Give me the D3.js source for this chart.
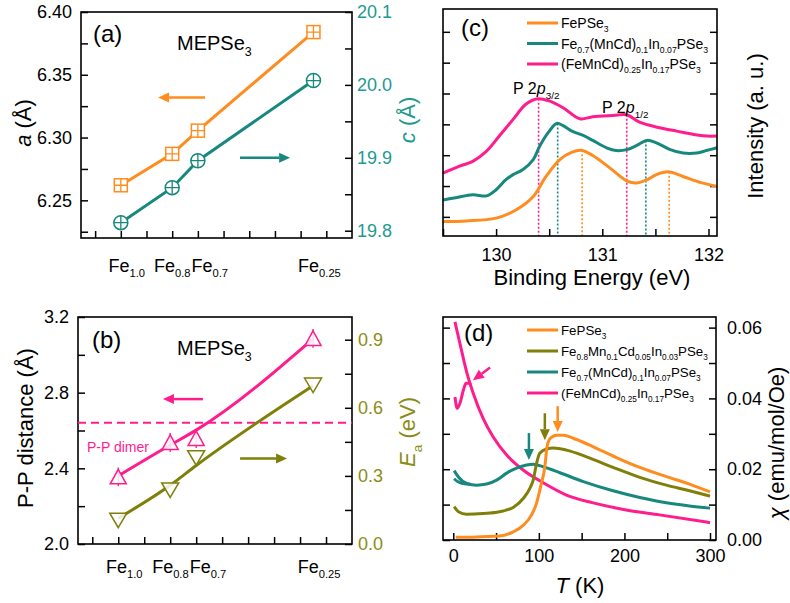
<!DOCTYPE html>
<html lang="en">
<head>
<meta charset="utf-8">
<title>MEPSe3 panels</title>
<script src="https://d3js.org/d3.v7.min.js"></script>
<style>
  body { margin: 0; background: #fff; }
  text { font-family: Arial, "Liberation Sans", sans-serif; }
</style>
</head>
<body>
<div id="chart"></div>
<script>
// ---- data: panels (a) and (b)
var catFrac = [1.0, 0.8, 0.7, 0.25];
var catSub = ["1.0", "0.8", "0.7", "0.25"];
var aLattice = [6.262, 6.287, 6.3055, 6.384];
var cLattice = [19.811, 19.859, 19.896, 20.006];
var ppMarker = [2.355, 2.537, 2.558, 3.087];
var ppFit = [2.36, 2.523, 2.602, 3.085];
var ppErr = [0.05, 0.05, 0.05, 0.05];
var eaMarker = [0.105, 0.238, 0.38, 0.70];
var eaFit = [0.113, 0.259, 0.346, 0.697];
var ppDimer = 2.641;

// ---- data: panel (c), XPS P 2p  [binding energy, intensity]
var xpsFePSe3 = [[129.5,0.85],[129.72,0.87],[130.0,0.96],[130.19,1.23],[130.35,1.66],[130.47,2.31],
  [130.6,2.86],[130.71,3.09],[130.8,3.16],[130.91,2.99],[131.07,2.59],[131.23,2.17],[131.32,2.10],
  [131.42,2.2],[131.51,2.37],[131.62,2.46],[131.76,2.31],[131.92,2.12],[132.08,1.99]];
var xpsFe07 = [[129.5,1.55],[129.62,1.62],[129.78,1.72],[129.91,1.68],[130.0,1.88],[130.09,2.2],
  [130.16,2.37],[130.25,2.53],[130.35,2.86],[130.41,3.29],[130.49,3.73],[130.57,4.03],[130.63,3.96],
  [130.72,3.77],[130.82,3.64],[130.91,3.48],[131.04,3.24],[131.13,3.15],[131.23,3.18],[131.32,3.31],
  [131.42,3.48],[131.51,3.4],[131.64,3.18],[131.76,3.07],[131.89,3.07],[131.98,3.15],[132.08,3.24]];
var xpsFe025 = [[129.5,2.42],[129.65,2.64],[129.78,2.8],[129.91,3.13],[130.03,3.62],[130.16,4.16],
  [130.28,4.65],[130.39,4.83],[130.5,4.76],[130.63,4.54],[130.79,4.18],[130.91,4.25],[131.1,4.29],
  [131.23,4.31],[131.35,4.07],[131.54,3.89],[131.7,3.78],[131.86,3.67],[131.98,3.62],[132.08,3.62]];
var peaksFePSe3 = [[130.81,3.16],[131.63,2.46]];
var peaksFe07 = [[130.58,4.03],[131.41,3.48]];
var peaksFe025 = [[130.40,4.83],[131.23,4.31]];

// ---- data: panel (d), susceptibility [T (K), chi]
var chiFePSe3 = [[3,0.00075],[20,0.0008],[54,0.0011],[70,0.0023],[82,0.0042],[91.5,0.0071],[97.3,0.0104],
  [102,0.015],[107,0.0207],[109.5,0.0262],[113,0.0286],[120.6,0.0296],[128.4,0.0296],[144,0.0284],
  [163,0.0264],[190.6,0.0233],[218,0.0205],[249,0.0179],[276,0.0158],[300,0.0136]];
var chiFe08 = [[1,0.0094],[6,0.008],[15.6,0.0073],[35,0.0075],[54,0.008],[70,0.0092],[82,0.0118],
  [89.5,0.0146],[93.4,0.0169],[97.3,0.0216],[101,0.0245],[109,0.0257],[117,0.026],[132.3,0.0254],
  [155.7,0.0235],[186.8,0.0205],[218,0.0177],[249,0.0155],[276,0.0139],[300,0.0124]];
var chiFe07 = [[1,0.0196],[6,0.0178],[15.6,0.016],[27.3,0.0155],[39,0.0158],[50.6,0.0169],[62.4,0.0189],
  [74,0.0203],[85.6,0.0212],[93.4,0.0214],[105,0.0207],[124.6,0.019],[152,0.0165],[186.8,0.0139],
  [218,0.012],[249,0.0105],[276,0.0096],[300,0.009]];
var chiFe07zfc = [[1,0.0173],[5,0.0165],[10,0.016],[16,0.0158],[21,0.0157]];
var chiFe025 = [[2,0.0616],[7.8,0.0555],[15.6,0.0475],[23.4,0.0414],[35,0.0343],[46.7,0.0291],
  [62.4,0.024],[82,0.0197],[105,0.0162],[132.3,0.0127],[163.5,0.0105],[202,0.0085],[241,0.0071],[300,0.0049]];
var chiFe025zfc = [[2,0.0404],[4.5,0.0372],[8,0.0388],[12,0.0425],[15,0.0443],[18,0.0443],[20.5,0.0438]];

// ---- colours and fonts
var ORANGE = "#FF8C1F", TEAL = "#17887E", MAGENTA = "#FF1C8D", OLIVE = "#7F7F0A";
var TEAL_TXT = "#1E9A90", OLIVE_TXT = "#8C8C14";
var FONT = "Arial, 'Liberation Sans', sans-serif";

var svg = d3.select("#chart").append("svg").attr("width", 790).attr("height", 603);

// text with subscripts / italics: parts = [[text, "sub"|"it"|"itsub"|undefined], ...]
function rich(g, x, y, parts, size, color, anchor) {
  var t = g.append("text").attr("x", x).attr("y", y)
    .attr("font-size", size).attr("fill", color || "#000")
    .attr("text-anchor", anchor || "start");
  var shift = 0;
  parts.forEach(function(p) {
    var s = t.append("tspan").text(p[0]);
    var isSub = p[1] == "sub" || p[1] == "itsub";
    var target = isSub ? size * 0.3 : 0;
    if (target != shift) { s.attr("dy", target - shift); shift = target; }
    if (isSub) s.attr("font-size", size * 0.62);
    if (p[1] == "it" || p[1] == "itsub") s.attr("font-style", "italic");
  });
  return t;
}

function frame(x0, y0, x1, y1) {
  svg.append("rect").attr("x", x0).attr("y", y0).attr("width", x1 - x0).attr("height", y1 - y0)
    .attr("fill", "none").attr("stroke", "#000").attr("stroke-width", 1.6);
}

function axis(gen, pos, values, fmt, color, pad, horizontal) {
  gen.tickValues(values).tickSize(-7).tickPadding(pad).tickFormat(fmt);
  var g = svg.append("g")
    .attr("transform", horizontal ? "translate(0," + pos + ")" : "translate(" + pos + ",0)")
    .call(gen);
  g.select(".domain").remove();
  g.selectAll("line").attr("stroke", "#000").attr("stroke-width", 1.5);
  g.selectAll("text").attr("font-size", 18).attr("font-family", FONT).attr("fill", color || "#000");
  return g;
}

function arrow(x1, y1, x2, y2, color) {
  var ang = Math.atan2(y2 - y1, x2 - x1), L = 11, Wd = 5;
  var bx = x2 - L * Math.cos(ang), by = y2 - L * Math.sin(ang);
  svg.append("line").attr("x1", x1).attr("y1", y1).attr("x2", bx).attr("y2", by)
    .attr("stroke", color).attr("stroke-width", 2.5);
  var px = -Math.sin(ang) * Wd, py = Math.cos(ang) * Wd;
  svg.append("path")
    .attr("d", "M" + x2 + "," + y2 + "L" + (bx + px) + "," + (by + py) + "L" + (bx - px) + "," + (by - py) + "Z")
    .attr("fill", color);
}

function rotLabel(x, y, parts, color) {
  var g = svg.append("g").attr("transform", "translate(" + x + "," + y + ") rotate(-90)");
  rich(g, 0, 0, parts, 22, color, "middle");
}

// category labels under (a)/(b), centred then pushed apart where they collide
function catLabels(xs, y) {
  var items = catFrac.map(function(f, i) {
    var t = rich(svg, 0, y, [["Fe"], [catSub[i], "sub"]], 18, "#000", "start");
    var w = t.node().getComputedTextLength();
    return { t: t, w: w, c: xs(f) + 6 };
  });
  for (var i = 0; i < items.length - 1; i++) {
    var a = items[i], b = items[i + 1];
    var gap = (b.c - b.w / 2) - (a.c + a.w / 2);
    if (gap < 1) { a.c -= (1 - gap) / 2; b.c += (1 - gap) / 2; }
  }
  items.forEach(function(it) { it.t.attr("x", it.c - it.w / 2); });
}

var xsTicks = d3.range(2, 12).map(function(i) { return i / 10; });
var noLabel = function() { return ""; };

// ================= panel (a)
var A = { x0: 81, y0: 12, x1: 352, y1: 238 };
var xA = d3.scaleLinear().domain([1.155, 0.1]).range([A.x0, A.x1]);
var yA = d3.scaleLinear().domain([6.22, 6.40]).range([A.y1, A.y0]);
var yA2 = d3.scaleLinear().domain([19.79, 20.1]).range([A.y1, A.y0]);

axis(d3.axisLeft(yA), A.x0, d3.range(0, 8).map(function(i) { return +(6.225 + 0.025 * i).toFixed(3); }),
  function(d) { return Math.round(d * 1000) % 50 == 0 ? d3.format(".2f")(d) : ""; }, "#000", 9);
axis(d3.axisRight(yA2), A.x1, d3.range(0, 7).map(function(i) { return +(19.8 + 0.05 * i).toFixed(2); }),
  function(d) { return Math.round(d * 100) % 10 == 0 ? d3.format(".1f")(d) : ""; }, TEAL_TXT, 5);
axis(d3.axisBottom(xA), A.y1, xsTicks, noLabel, "#000", 6, true);
frame(A.x0, A.y0, A.x1, A.y1);

var lineA = d3.line().x(function(d) { return xA(d[0]); }).y(function(d) { return yA(d[1]); });
var lineA2 = d3.line().x(function(d) { return xA(d[0]); }).y(function(d) { return yA2(d[1]); });
var aPts = catFrac.map(function(f, i) { return [f, aLattice[i]]; });
var cPts = catFrac.map(function(f, i) { return [f, cLattice[i]]; });
svg.append("path").attr("d", lineA(aPts)).attr("fill", "none").attr("stroke", ORANGE).attr("stroke-width", 3);
svg.append("path").attr("d", lineA2(cPts)).attr("fill", "none").attr("stroke", TEAL).attr("stroke-width", 3);
aPts.forEach(function(d) {
  var g = svg.append("g").attr("transform", "translate(" + xA(d[0]) + "," + yA(d[1]) + ")");
  g.append("rect").attr("x", -6.5).attr("y", -6.5).attr("width", 13).attr("height", 13)
    .attr("fill", "#fff").attr("stroke", ORANGE).attr("stroke-width", 1.5);
  g.append("path").attr("d", "M-6.5,0H6.5M0,-6.5V6.5").attr("stroke", ORANGE).attr("stroke-width", 1.3);
});
cPts.forEach(function(d) {
  var g = svg.append("g").attr("transform", "translate(" + xA(d[0]) + "," + yA2(d[1]) + ")");
  g.append("circle").attr("r", 7).attr("fill", "#fff").attr("stroke", TEAL).attr("stroke-width", 1.5);
  g.append("path").attr("d", "M-7,0H7M0,-7V7").attr("stroke", TEAL).attr("stroke-width", 1.3);
});
rich(svg, 93, 42, [["(a)"]], 24);
rich(svg, 177, 50, [["MEPSe"], ["3", "sub"]], 20);
arrow(xA(0.672), yA(6.332), xA(0.855), yA(6.332), ORANGE);
arrow(xA(0.536), yA2(19.9), xA(0.341), yA2(19.9), TEAL);
catLabels(xA, 272);
rotLabel(31, 123, [["a", "it"], [" (Å)"]], "#000");
rotLabel(415, 120, [["c", "it"], [" (Å)"]], TEAL_TXT);

// ================= panel (b)
var B = { x0: 78, y0: 317, x1: 352, y1: 544 };
var xB = d3.scaleLinear().domain([1.155, 0.1]).range([B.x0, B.x1]);
var yB = d3.scaleLinear().domain([2.0, 3.2]).range([B.y1, B.y0]);
var yB2 = d3.scaleLinear().domain([0, 1.0]).range([B.y1, B.y0]);

axis(d3.axisLeft(yB), B.x0, d3.range(0, 7).map(function(i) { return +(2.0 + 0.2 * i).toFixed(1); }),
  function(d) { return Math.round(d * 10) % 4 == 0 ? d3.format(".1f")(d) : ""; }, "#000", 9);
axis(d3.axisRight(yB2), B.x1, d3.range(0, 7).map(function(i) { return +(0.15 * i).toFixed(2); }),
  function(d) { return Math.round(d * 100) % 30 == 0 ? d3.format(".1f")(d) : ""; }, OLIVE_TXT, 6);
axis(d3.axisBottom(xB), B.y1, xsTicks, noLabel, "#000", 6, true);
frame(B.x0, B.y0, B.x1, B.y1);

svg.append("line").attr("x1", B.x0).attr("x2", B.x1).attr("y1", yB(ppDimer)).attr("y2", yB(ppDimer))
  .attr("stroke", MAGENTA).attr("stroke-width", 2).attr("stroke-dasharray", "8,5");
rich(svg, 87, 452, [["P-P dimer"]], 14, MAGENTA);

var smooth = d3.line().curve(d3.curveMonotoneX);
svg.append("path").attr("d", smooth(catFrac.map(function(f, i) { return [xB(f), yB(ppFit[i])]; })))
  .attr("fill", "none").attr("stroke", MAGENTA).attr("stroke-width", 3);
svg.append("path").attr("d", smooth(catFrac.map(function(f, i) { return [xB(f), yB2(eaFit[i])]; })))
  .attr("fill", "none").attr("stroke", OLIVE).attr("stroke-width", 3);
catFrac.forEach(function(f, i) {
  svg.append("line").attr("x1", xB(f)).attr("x2", xB(f))
    .attr("y1", yB(ppMarker[i] - ppErr[i])).attr("y2", yB(ppMarker[i] + ppErr[i]))
    .attr("stroke", MAGENTA).attr("stroke-width", 1.3);
  svg.append("path").attr("transform", "translate(" + xB(f) + "," + yB(ppMarker[i]) + ")")
    .attr("d", "M0,-7.5L8,7L-8,7Z").attr("fill", "#fff").attr("fill-opacity", 0.85)
    .attr("stroke", MAGENTA).attr("stroke-width", 1.5);
  svg.append("path").attr("transform", "translate(" + xB(f) + "," + yB2(eaMarker[i]) + ")")
    .attr("d", "M0,7.5L8.5,-7L-8.5,-7Z").attr("fill", "#fff").attr("fill-opacity", 0.85)
    .attr("stroke", OLIVE).attr("stroke-width", 1.5);
});
rich(svg, 92, 348, [["(b)"]], 24);
rich(svg, 177, 355, [["MEPSe"], ["3", "sub"]], 20);
arrow(xB(0.674), yB(2.766), xB(0.828), yB(2.766), MAGENTA);
arrow(xB(0.531), yB2(0.377), xB(0.350), yB2(0.377), OLIVE);
catLabels(xB, 573);
rotLabel(33, 428, [["P-P distance (Å)"]], "#000");
rotLabel(415, 432, [["E", "it"], ["a", "sub"], [" (eV)"]], OLIVE_TXT);

// ================= panel (c)
var C = { x0: 443, y0: 9, x1: 717, y1: 236 };
var xC = d3.scaleLinear().domain([129.5, 132.08]).range([C.x0, C.x1]);
var yC = d3.scaleLinear().domain([0.38, 7.74]).range([C.y1, C.y0]);
var cTicksY = d3.range(1, 8);
axis(d3.axisLeft(yC), C.x0, cTicksY, noLabel, "#000", 6);
axis(d3.axisRight(yC), C.x1, cTicksY, noLabel, "#000", 6);
axis(d3.axisBottom(xC), C.y1, d3.range(0, 6).map(function(i) { return 129.5 + 0.5 * i; }),
  function(d) { return d % 1 == 0 ? d3.format("d")(d) : ""; }, "#000", 12, true);

var lineC = d3.line().x(function(d) { return xC(d[0]); }).y(function(d) { return yC(d[1]); })
  .curve(d3.curveCatmullRom.alpha(0.5));
[[peaksFePSe3, ORANGE], [peaksFe07, TEAL], [peaksFe025, MAGENTA]].forEach(function(s) {
  s[0].forEach(function(p) {
    svg.append("line").attr("x1", xC(p[0])).attr("x2", xC(p[0])).attr("y1", yC(p[1])).attr("y2", C.y1)
      .attr("stroke", s[1]).attr("stroke-width", 1.6).attr("stroke-dasharray", "2,2");
  });
});
[[xpsFePSe3, ORANGE], [xpsFe07, TEAL], [xpsFe025, MAGENTA]].forEach(function(s) {
  svg.append("path").attr("d", lineC(s[0])).attr("fill", "none").attr("stroke", s[1]).attr("stroke-width", 3);
});
frame(C.x0, C.y0, C.x1, C.y1);
rich(svg, 461, 36, [["(c)"]], 24);
rich(svg, 513, 94, [["P 2"], ["p", "it"], ["3/2", "sub"]], 16);
rich(svg, 602, 113, [["P 2"], ["p", "it"], ["1/2", "sub"]], 16);

var legC = [
  [ORANGE, [["FePSe"], ["3", "sub"]]],
  [TEAL, [["Fe"], ["0.7", "sub"], ["(MnCd)"], ["0.1", "sub"], ["In"], ["0.07", "sub"], ["PSe"], ["3", "sub"]]],
  [MAGENTA, [["(FeMnCd)"], ["0.25", "sub"], ["In"], ["0.17", "sub"], ["PSe"], ["3", "sub"]]]
];
legC.forEach(function(l, i) {
  var y = 23 + i * 20.5;
  svg.append("line").attr("x1", 527).attr("x2", 558).attr("y1", y).attr("y2", y)
    .attr("stroke", l[0]).attr("stroke-width", 3);
  rich(svg, 561, y + 5, l[1], 14);
});
rich(svg, 592, 285, [["Binding Energy (eV)"]], 22, "#000", "middle");
rotLabel(763, 126, [["Intensity (a. u.)"]], "#000");

// ================= panel (d)
var D = { x0: 443, y0: 317, x1: 716, y1: 540 };
var xD = d3.scaleLinear().domain([-12, 307]).range([D.x0, D.x1]);
var yD = d3.scaleLinear().domain([0, 0.063]).range([D.y1, D.y0]);
var dTicksY = d3.range(0, 7).map(function(i) { return +(0.01 * i).toFixed(2); });
axis(d3.axisLeft(yD), D.x0, dTicksY, noLabel, "#000", 6);
axis(d3.axisRight(yD), D.x1, dTicksY,
  function(d) { return Math.round(d * 100) % 2 == 0 ? d3.format(".2f")(d) : ""; }, "#000", 11);
axis(d3.axisBottom(xD), D.y1, d3.range(0, 301, 50),
  function(d) { return d % 100 == 0 ? d : ""; }, "#000", 9, true);

var lineD = d3.line().x(function(d) { return xD(d[0]); }).y(function(d) { return yD(d[1]); })
  .curve(d3.curveMonotoneX);
[[chiFe025, MAGENTA], [chiFe025zfc, MAGENTA], [chiFe07, TEAL], [chiFe07zfc, TEAL],
 [chiFe08, OLIVE], [chiFePSe3, ORANGE]].forEach(function(s) {
  svg.append("path").attr("d", lineD(s[0])).attr("fill", "none").attr("stroke", s[1]).attr("stroke-width", 3);
});
frame(D.x0, D.y0, D.x1, D.y1);
arrow(xD(88.4), yD(0.0302), xD(88.4), yD(0.0226), TEAL);
arrow(xD(107), yD(0.0358), xD(107), yD(0.0282), OLIVE);
arrow(xD(122), yD(0.0378), xD(122), yD(0.0305), ORANGE);
arrow(xD(43), yD(0.0487), xD(23), yD(0.0451), MAGENTA);
rich(svg, 464, 341, [["(d)"]], 24);

var legD = [
  [ORANGE, [["FePSe"], ["3", "sub"]]],
  [OLIVE, [["Fe"], ["0.8", "sub"], ["Mn"], ["0.1", "sub"], ["Cd"], ["0.05", "sub"], ["In"], ["0.03", "sub"], ["PSe"], ["3", "sub"]]],
  [TEAL, [["Fe"], ["0.7", "sub"], ["(MnCd)"], ["0.1", "sub"], ["In"], ["0.07", "sub"], ["PSe"], ["3", "sub"]]],
  [MAGENTA, [["(FeMnCd)"], ["0.25", "sub"], ["In"], ["0.17", "sub"], ["PSe"], ["3", "sub"]]]
];
legD.forEach(function(l, i) {
  var y = 330 + i * 21;
  svg.append("line").attr("x1", 527).attr("x2", 558).attr("y1", y).attr("y2", y)
    .attr("stroke", l[0]).attr("stroke-width", 3);
  rich(svg, 561, y + 5, l[1], 13.3);
});
rich(svg, 580, 593, [["T", "it"], [" (K)"]], 22, "#000", "middle");
rotLabel(784, 443, [["χ", "it"], [" (emu/mol/Oe)"]], "#000");
</script>
</body>
</html>
